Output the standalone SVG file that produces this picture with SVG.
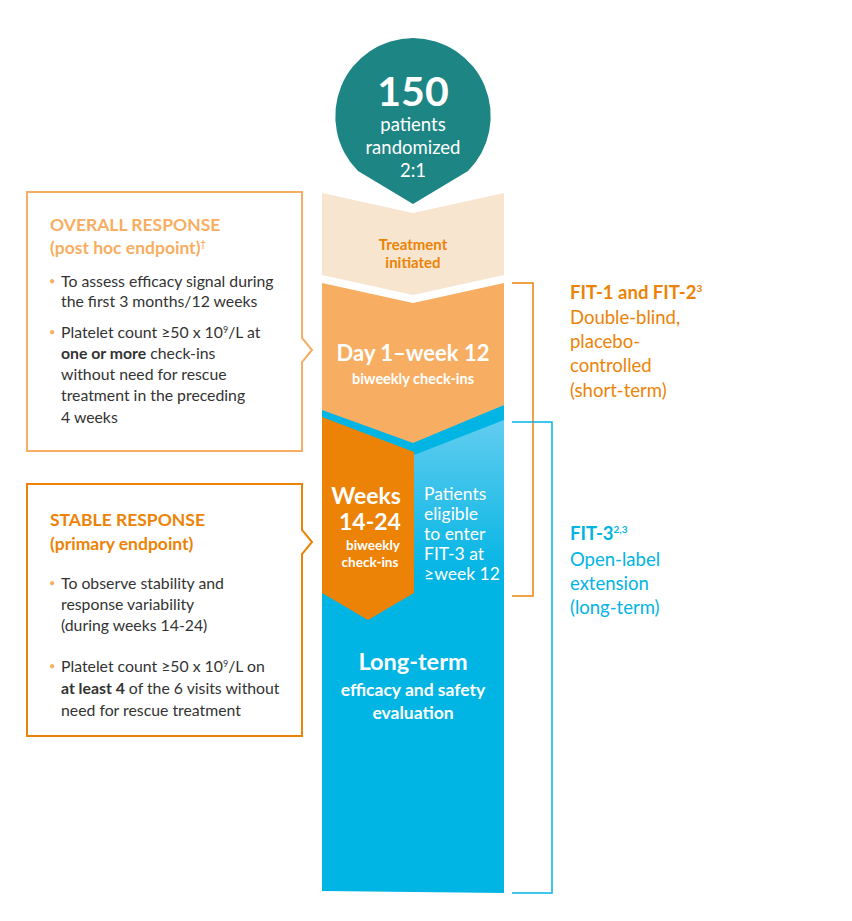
<svg xmlns="http://www.w3.org/2000/svg" width="852" height="921" viewBox="0 0 852 921">
<style>
text{font-family:"Lato","Liberation Sans",sans-serif}
.w{fill:#fff}
.b{font-weight:bold}
.body{font-size:15.8px;fill:#333}
.dot{fill:#f7ae62}
.r1{font-size:18.5px;fill:#ec8306}
.r3{font-size:18.5px;fill:#00b4e4}
</style>
<defs>
<linearGradient id="bg2" x1="0" y1="395" x2="0" y2="580" gradientUnits="userSpaceOnUse">
<stop offset="0" stop-color="#71d0f1"/>
<stop offset="1" stop-color="#00b4e4"/>
</linearGradient>
</defs>
<g id="circle">
<path d="M413 38 A78 78 0 0 1 468 171 L413 204 L358 171 A78 78 0 0 1 413 38 Z" fill="#1e8585"/>
<text x="413" y="106" text-anchor="middle" class="w b" font-size="41" font-weight="900">150</text>
<text x="413" y="131" text-anchor="middle" class="w" font-size="18.5">patients</text>
<text x="413" y="154" text-anchor="middle" class="w" font-size="18.5">randomized</text>
<text x="413" y="177" text-anchor="middle" class="w" font-size="18.5">2:1</text>
</g>
<g id="treatment">
<polygon points="322,193 413,213 504,193 504,275 413,295 322,275" fill="#f8e5cf"/>
<text x="413" y="250" text-anchor="middle" class="b" font-size="15" fill="#ec8306">Treatment</text>
<text x="413" y="268" text-anchor="middle" class="b" font-size="15" fill="#ec8306">initiated</text>
</g>
<g id="longterm">
<polygon points="322,395 504,395 504,893 322,891" fill="url(#bg2)"/>
<polygon points="322,405 414,440 504,405 504,420 414,455 322,420" fill="#00b4e4"/>
<text x="413" y="670" text-anchor="middle" class="w b" font-size="23.5">Long-term</text>
<text x="413" y="696" text-anchor="middle" class="w b" font-size="17.5">efficacy and safety</text>
<text x="413" y="719" text-anchor="middle" class="w b" font-size="17.5">evaluation</text>
</g>
<g id="day1">
<polygon points="322,283 413,303 504,283 504,405 413,443 322,410" fill="#f7ae62"/>
<text x="413" y="361" text-anchor="middle" class="w b" font-size="22">Day 1–week 12</text>
<text x="413" y="384" text-anchor="middle" class="w b" font-size="14.5">biweekly check-ins</text>
</g>
<g id="weeks">
<polygon points="322,417 414,452 414,593 368,620 322,593" fill="#ec8306"/>
<text x="366" y="504" text-anchor="middle" class="w b" font-size="23">Weeks</text>
<text x="370" y="530" text-anchor="middle" class="w b" font-size="23">14-24</text>
<text x="373" y="550" text-anchor="middle" class="w b" font-size="13.5">biweekly</text>
<text x="370" y="567" text-anchor="middle" class="w b" font-size="13.5">check-ins</text>
<text x="424" y="500" class="w" font-size="17.5">Patients</text>
<text x="424" y="520" class="w" font-size="17.5">eligible</text>
<text x="424" y="540" class="w" font-size="17.5">to enter</text>
<text x="424" y="560" class="w" font-size="17.5">FIT-3 at</text>
<text x="424" y="580" class="w" font-size="17.5">≥week 12</text>
</g>
<g id="overall">
<path d="M27 192 H302 V338 L312 350 L302 362 V451 H27 Z" fill="#fff" stroke="#f7ae62" stroke-width="2"/>
<text x="50" y="231" class="b" font-size="17.5" fill="#f7ae62">OVERALL RESPONSE</text>
<text x="50" y="254" class="b" font-size="17.5" fill="#f7ae62">(post hoc endpoint)<tspan font-size="9" dy="-7">†</tspan></text>
<text x="49" y="285" class="dot" font-size="11">•</text>
<text x="61" y="287" class="body">To assess efficacy signal during</text>
<text x="61" y="307" class="body">the first 3 months/12 weeks</text>
<text x="49" y="336" class="dot" font-size="11">•</text>
<text x="61" y="338" class="body">Platelet count ≥50 x 10<tspan font-size="9" dy="-5">9</tspan><tspan dy="5">/L at</tspan></text>
<text x="61" y="359" class="body"><tspan font-weight="bold">one or more</tspan> check-ins</text>
<text x="61" y="380" class="body">without need for rescue</text>
<text x="61" y="401" class="body">treatment in the preceding</text>
<text x="61" y="423" class="body">4 weeks</text>
</g>
<g id="stable">
<path d="M27 484 H302 V530 L312 542 L302 554 V736 H27 Z" fill="#fff" stroke="#ec8306" stroke-width="2"/>
<text x="50" y="526" class="b" font-size="17.5" fill="#ec8306">STABLE RESPONSE</text>
<text x="50" y="550" class="b" font-size="17.5" fill="#ec8306">(primary endpoint)</text>
<text x="49" y="587" class="dot" font-size="11" fill="#ec8306">•</text>
<text x="61" y="589" class="body">To observe stability and</text>
<text x="61" y="610" class="body">response variability</text>
<text x="61" y="631" class="body">(during weeks 14-24)</text>
<text x="49" y="670" class="dot" font-size="11">•</text>
<text x="61" y="672" class="body">Platelet count ≥50 x 10<tspan font-size="9" dy="-5">9</tspan><tspan dy="5">/L on</tspan></text>
<text x="61" y="694" class="body"><tspan font-weight="bold">at least 4</tspan> of the 6 visits without</text>
<text x="61" y="716" class="body">need for rescue treatment</text>
</g>
<g id="connectors" fill="none" stroke-width="1.5">
<polyline points="512,283 533,283 533,596 512,596" stroke="#ec8306"/>
<polyline points="512,422 552,422 552,893 512,893" stroke="#00b4e4"/>
</g>
<g id="fit12">
<text x="570" y="299" class="r1 b" font-size="19.5">FIT-1 and FIT-2<tspan font-size="10" dy="-7">3</tspan></text>
<text x="570" y="324" class="r1">Double-blind,</text>
<text x="570" y="348" class="r1">placebo-</text>
<text x="570" y="372" class="r1">controlled</text>
<text x="570" y="397" class="r1">(short-term)</text>
</g>
<g id="fit3">
<text x="570" y="540" class="r3 b" font-size="19.5">FIT-3<tspan font-size="10" dy="-7">2,3</tspan></text>
<text x="570" y="566" class="r3">Open-label</text>
<text x="570" y="590" class="r3">extension</text>
<text x="570" y="614" class="r3">(long-term)</text>
</g>
</svg>
